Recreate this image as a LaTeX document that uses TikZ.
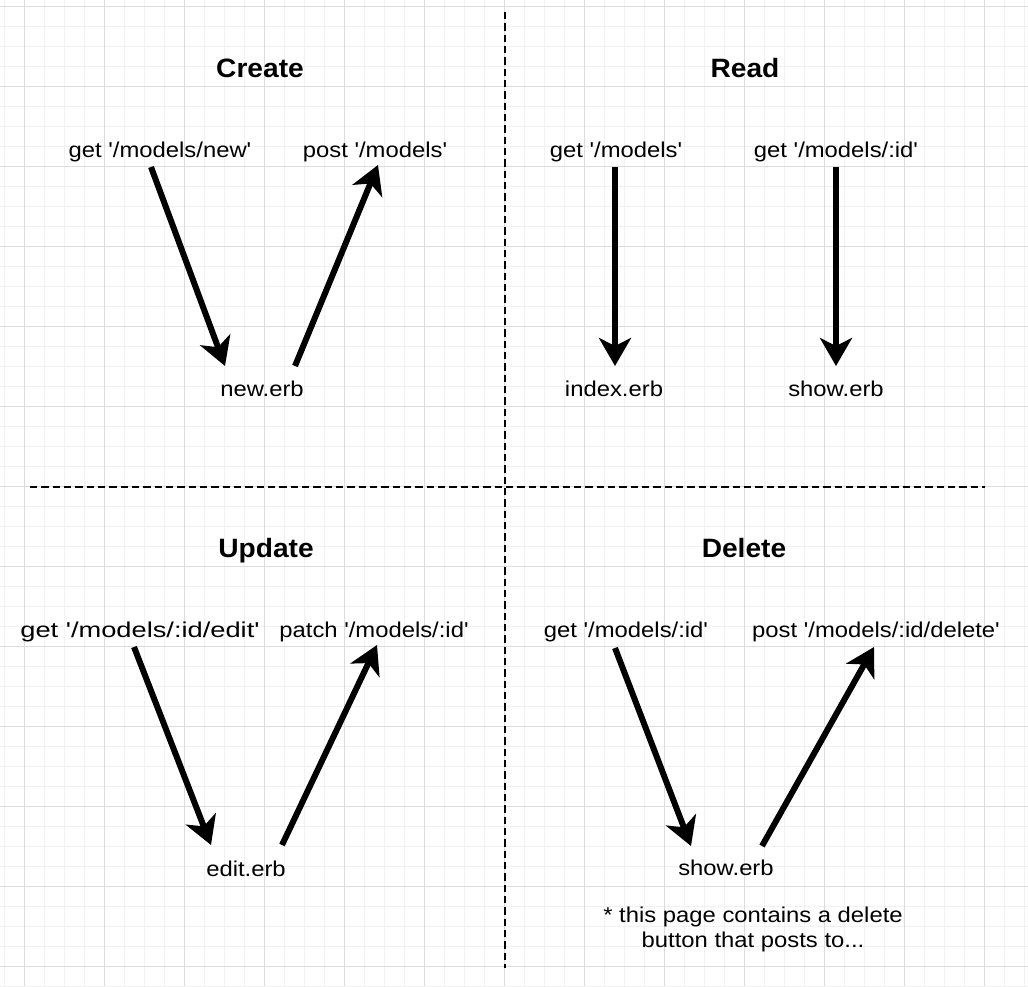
\documentclass[tikz,border=0pt]{standalone}
\usepackage{fontspec}
\usetikzlibrary{arrows.meta}
\newfontfamily\labfont{Liberation Sans}[FakeStretch=1.11]
\newfontfamily\labwidefont{Liberation Sans}[FakeStretch=1.27]
\newfontfamily\ttlfont{Liberation Sans}[FakeStretch=1.06]
\definecolor{gridminor}{HTML}{F1F1F1}
\definecolor{gridmajor}{HTML}{DCDCDC}
\tikzset{
  lab/.style={inner sep=0pt, anchor=base, font={\labfont\fontsize{16.1}{18.75}\selectfont}},
  labwide/.style={lab, font={\labwidefont\fontsize{16.1}{18.75}\selectfont}},
  ttl/.style={inner sep=0pt, anchor=base, font={\ttlfont\bfseries\fontsize{19.9}{24}\selectfont}},
  arr/.style={line width=4.5pt, -{Stealth[length=21pt, width=24pt, inset=6pt]}},
  sep/.style={line width=1.7pt, dash pattern=on 5.5pt off 3pt},
}
\begin{document}
\begin{tikzpicture}[x=0.75pt,y=-0.75pt]
\useasboundingbox (0,0) rectangle (1028,986);
\fill[white] (0,0) rectangle (1028,986);
% grid
\foreach \gx in {4,24,...,1028} \draw[gridminor, line width=0.75pt] (\gx,0) -- (\gx,986);
\foreach \gy in {6,26,...,986} \draw[gridminor, line width=0.75pt] (0,\gy) -- (1028,\gy);
\foreach \gx in {24,104,...,1028} \draw[gridmajor, line width=0.75pt] (\gx,0) -- (\gx,986);
\foreach \gy in {6,86,...,986} \draw[gridmajor, line width=0.75pt] (0,\gy) -- (1028,\gy);
% separators
\coordinate (vtop) at (505,12);
\coordinate (vbot) at (505,968);
\coordinate (hl) at (30,487);
\coordinate (hr) at (985,487);
\draw[sep] (vtop) -- (vbot);
\draw[sep] (hl) -- (hr);
% titles
\node[ttl] (tcreate) at (260,77) {Create};
\node[ttl] (tread) at (745,77) {Read};
\node[ttl] (tupdate) at (266,557) {Update};
\node[ttl] (tdelete) at (744,557) {Delete};
% Create
\node[lab] (cget) at (160,157) {get '/models/new'};
\node[lab] (cpost) at (375,157) {post '/models'};
\node[lab] (cnew) at (262,396) {new.erb};
\coordinate (c1s) at (151,167);
\coordinate (c1e) at (225,366);
\coordinate (c2s) at (295,366);
\coordinate (c2e) at (378,165);
\draw[arr] (c1s) -- (c1e);
\draw[arr] (c2s) -- (c2e);
% Read
\node[lab] (rget) at (616,157) {get '/models'};
\node[lab] (rgetid) at (836,157) {get '/models/:id'};
\node[lab] (rindex) at (614,396) {index.erb};
\node[lab] (rshow) at (836,396) {show.erb};
\coordinate (r1s) at (615,167);
\coordinate (r1e) at (615,366);
\coordinate (r2s) at (836,167);
\coordinate (r2e) at (836,366);
\draw[arr] (r1s) -- (r1e);
\draw[arr] (r2s) -- (r2e);
% Update
\node[labwide] (uget) at (140,637) {get '/models/:id/edit'};
\node[lab] (upatch) at (374,637) {patch '/models/:id'};
\node[lab] (uedit) at (246,876) {edit.erb};
\coordinate (u1s) at (134,647);
\coordinate (u1e) at (211,845);
\coordinate (u2s) at (282,845);
\coordinate (u2e) at (377,645);
\draw[arr] (u1s) -- (u1e);
\draw[arr] (u2s) -- (u2e);
% Delete
\node[lab] (dget) at (626,637) {get '/models/:id'};
\node[lab] (dpost) at (876,637) {post '/models/:id/delete'};
\node[lab] (dshow) at (726,875) {show.erb};
\node[lab, align=center] (dnote) at (753,947) {* this page contains a delete\\button that posts to...};
\coordinate (d1s) at (615,648);
\coordinate (d1e) at (691,846);
\coordinate (d2s) at (762,846);
\coordinate (d2e) at (874,647);
\draw[arr] (d1s) -- (d1e);
\draw[arr] (d2s) -- (d2e);
\end{tikzpicture}
\end{document}
